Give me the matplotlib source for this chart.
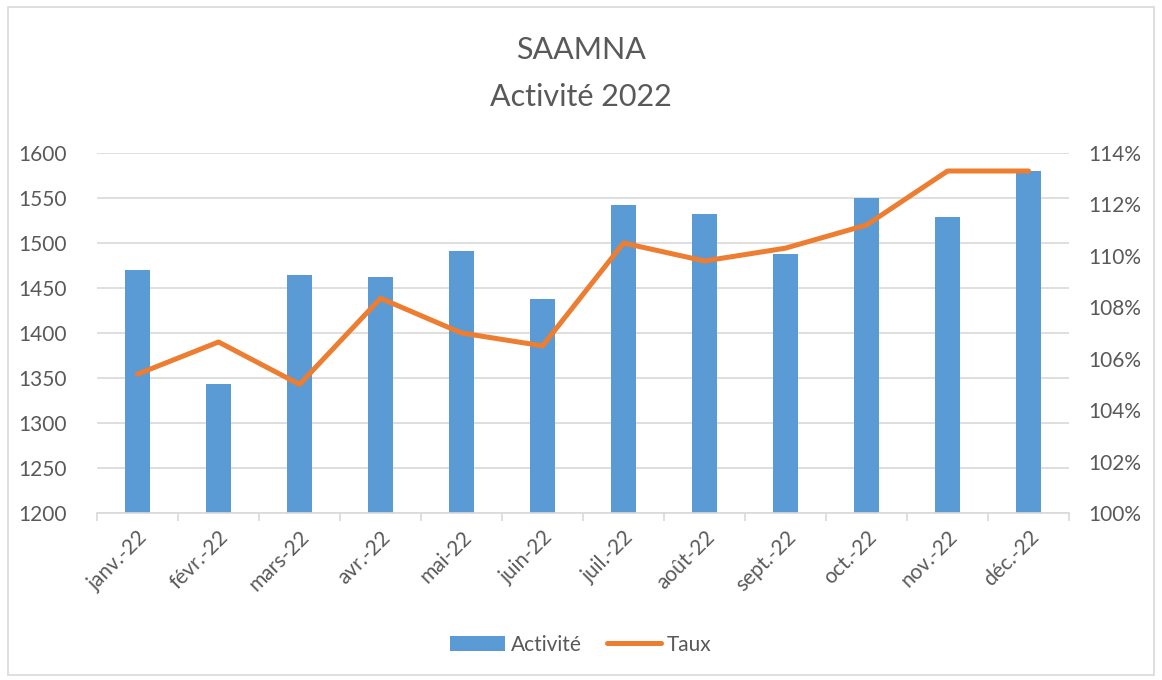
import matplotlib.pyplot as plt
from matplotlib.patches import Rectangle
from matplotlib.ticker import FuncFormatter, MultipleLocator

plt.rcParams['font.family'] = ['Lato', 'DejaVu Sans']

mois = ['janv.-22', 'févr.-22', 'mars-22', 'avr.-22', 'mai-22', 'juin-22',
        'juil.-22', 'août-22', 'sept.-22', 'oct.-22', 'nov.-22', 'déc.-22']
activite = [1470, 1343, 1464, 1462, 1491, 1438, 1542, 1532, 1488, 1550, 1529, 1580]
taux = [105.4, 106.65, 105.0, 108.35, 107.0, 106.5, 110.5, 109.8, 110.3, 111.2, 113.3, 113.3]

grey = '#595959'
blue = '#5b9bd5'
orange = '#ed7d31'

fig = plt.figure(figsize=(11.62, 6.8), dpi=100)
fig.patches.append(Rectangle((0.007, 0.008), 0.986, 0.982, transform=fig.transFigure,
                             fill=False, edgecolor='#d9d9d9', lw=1.2))

ax = fig.add_axes([0.0835, 0.2456, 0.8365, 0.5294])
x = range(len(mois))
bars = ax.bar(x, activite, width=0.32, color=blue, label='Activité', zorder=2)
ax.set_ylim(1200, 1600)
ax.set_xlim(-0.5, len(mois) - 0.5)
ax.yaxis.set_major_locator(MultipleLocator(50))
ax.grid(axis='y', color='#d9d9d9', lw=1.2, zorder=0)
ax.set_axisbelow(True)
for s in ['top', 'right', 'left']:
    ax.spines[s].set_visible(False)
ax.spines['bottom'].set_color('#d9d9d9')
ax.spines['bottom'].set_linewidth(1.2)
ax.set_xticks([i - 0.5 for i in range(len(mois) + 1)], minor=False)
ax.set_xticklabels([])
ax.tick_params(axis='x', which='major', length=6, color='#d9d9d9', width=1.2)
ax.set_xticks(list(x), minor=True)
ax.set_xticklabels(mois, minor=True, rotation=45, ha='right', rotation_mode='anchor')
ax.tick_params(axis='x', which='minor', length=0, pad=10, labelsize=15, labelcolor=grey)
ax.tick_params(axis='y', length=0, labelsize=15, labelcolor=grey, pad=22)

ax2 = ax.twinx()
line, = ax2.plot(x, taux, color=orange, lw=3.6, solid_capstyle='round', label='Taux', zorder=3)
ax2.set_ylim(100, 114)
ax2.yaxis.set_major_locator(MultipleLocator(2))
ax2.yaxis.set_major_formatter(FuncFormatter(lambda v, p: f'{v:.0f}%'))
ax2.tick_params(axis='y', length=0, labelsize=15, labelcolor=grey, pad=14)
for s in ax2.spines.values():
    s.set_visible(False)

fig.text(0.5, 0.926, 'SAAMNA', ha='center', va='center', fontsize=22, color=grey)
fig.text(0.5, 0.857, 'Activité 2022', ha='center', va='center', fontsize=22, color=grey)

fig.legend([bars, line], ['Activité', 'Taux'], loc='center', bbox_to_anchor=(0.5, 0.052),
           ncol=2, frameon=False, fontsize=15, labelcolor=grey, handlelength=2.6,
           handletextpad=0.3, columnspacing=1.2)

fig.savefig('out.png', dpi=100)
